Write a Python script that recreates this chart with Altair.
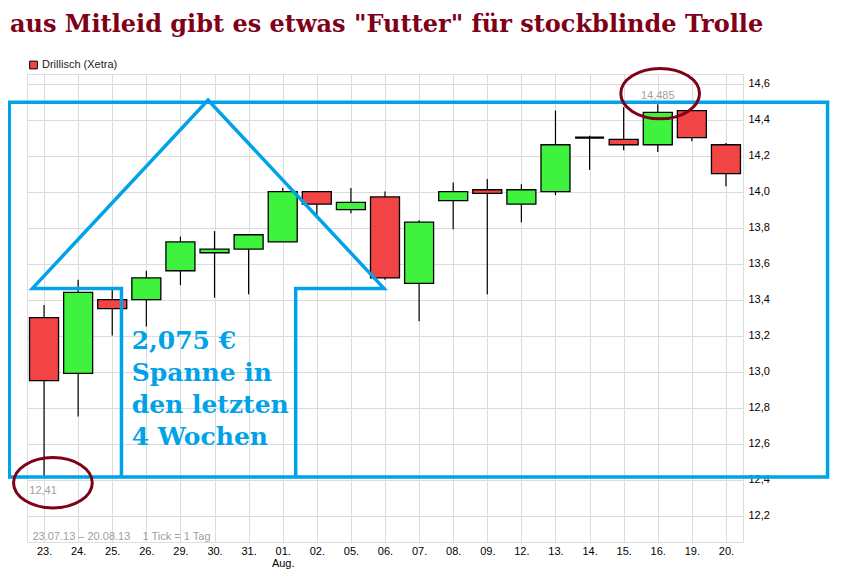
import json
import altair as alt
import pandas as pd

# ---------------- data ----------------
DAYS = ["23.", "24.", "25.", "26.", "29.", "30.", "31.", "01.", "02.", "05.", "06.",
        "07.", "08.", "09.", "12.", "13.", "14.", "15.", "16.", "19.", "20."]
OPEN = [13.30, 12.99, 13.40, 13.40, 13.56, 13.66, 13.68, 13.72, 14.00, 13.90, 13.97,
        13.49, 13.95, 14.01, 13.93, 14.00, 14.30, 14.29, 14.26, 14.45, 14.26]
HIGH = [13.37, 13.51, 13.46, 13.56, 13.75, 13.78, 13.76, 14.02, 14.00, 14.02, 14.00,
        13.84, 14.05, 14.07, 14.04, 14.45, 14.31, 14.47, 14.485, 14.45, 14.27]
LOW = [12.41, 12.75, 13.20, 13.25, 13.48, 13.41, 13.43, 13.72, 13.87, 13.88, 13.51,
       13.28, 13.79, 13.43, 13.83, 13.98, 14.12, 14.23, 14.22, 14.28, 14.03]
CLOSE = [12.95, 13.44, 13.35, 13.52, 13.72, 13.68, 13.76, 14.00, 13.93, 13.94, 13.52,
         13.83, 14.00, 13.99, 14.01, 14.26, 14.30, 14.26, 14.44, 14.30, 14.10]
MONTH_AT = 7
MONTH_LABEL = "Aug."
Y_TICKS = [12.2, 12.4, 12.6, 12.8, 13.0, 13.2, 13.4, 13.6, 13.8, 14.0, 14.2, 14.4, 14.6]
X_DOMAIN = [-0.5, 20.5]
Y_DOMAIN = [12.053, 14.653]

TITLE = 'aus Mitleid gibt es etwas "Futter" für stockblinde Trolle'
SERIES = ["Drillisch (Xetra)"]
RANGE_NOTE = ["23.07.13 \u2013 20.08.13\u00a0\u00a0\u00a0 1 Tick = 1 Tag"]
RANGE_NOTE_POS = [-0.34, 12.064]
HIGH_LABEL = {"x": [18], "y": [14.485], "t": ["14,485"]}
LOW_LABEL = {"x": [0], "y": [12.41], "t": ["12,41"]}

BOX = {"x": [-1.02], "x2": [22.98], "y": [12.414], "y2": [14.496]}
ARROW_X = [2.27, 2.27, -0.34, 4.81, 9.97, 7.38, 7.38]
ARROW_Y = [12.414, 13.462, 13.462, 14.508, 13.462, 13.462, 12.414]
SPAN_TEXT = ["2,075 \u20ac\nSpanne in\nden letzten\n4 Wochen"]
SPAN_POS = [2.57, 13.125]
ELLIPSE_X = [18.07, 0.26]
ELLIPSE_Y = [14.544, 12.382]

# ---------------- styles ----------------
GREEN = "#3ef23e"
RED = "#f24444"
BLUE = "#00a2e8"
DARKRED = "#800018"
GRID = "#dcdcdc"
AXFONT = "Liberation Sans"

candles = pd.DataFrame({"idx": list(range(len(DAYS))), "day": DAYS, "open": OPEN,
                        "high": HIGH, "low": LOW, "close": CLOSE})
candles["dir"] = ["up" if c > o else ("down" if c < o else "flat") for o, c in zip(OPEN, CLOSE)]

xs = alt.Scale(domain=X_DOMAIN, nice=False, zero=False, padding=0)
ys = alt.Scale(domain=Y_DOMAIN, nice=False, zero=False, padding=0)

x_label_expr = (f"datum.value == {MONTH_AT} ? [{json.dumps(DAYS[MONTH_AT])}, {json.dumps(MONTH_LABEL)}] : "
                f"{json.dumps(DAYS)}[datum.value]")

x_axis = alt.Axis(values=list(range(len(DAYS))), labelExpr=x_label_expr, title=None,
                  grid=True, gridColor=GRID, gridWidth=1, ticks=False, domain=False,
                  labelFont=AXFONT, labelFontSize=11, labelColor="#000000",
                  labelPadding=3, labelLineHeight=12, labelOverlap=False, labelFlush=False,
                  labelBound=False)
y_axis = alt.Axis(values=Y_TICKS, orient="right", title=None,
                  labelExpr="replace(format(datum.value, '.1f'), '.', ',')",
                  grid=True, gridColor=GRID, gridWidth=1, ticks=False, domain=False,
                  labelFont=AXFONT, labelFontSize=11, labelColor="#000000", labelPadding=5,
                  labelOverlap=False, labelFlush=False, labelBound=False)


def X(field):
    return alt.X(field, scale=xs, axis=x_axis)


def Y(field):
    return alt.Y(field, scale=ys, axis=y_axis)


base = alt.Chart(candles)

wicks = base.mark_rule(color="#000000", strokeWidth=1.2).encode(
    x=X("idx:Q"),
    y=Y("low:Q"),
    y2="high:Q",
)

bodies = base.mark_bar(size=29, stroke="#000000").encode(
    x=X("idx:Q"),
    y=Y("open:Q"),
    y2="close:Q",
    fill=alt.Fill("dir:N", scale=alt.Scale(domain=["up", "down", "flat"], range=[GREEN, RED, "#000000"]),
                  legend=None),
    strokeWidth=alt.condition("datum.dir == 'flat'", alt.value(2.2), alt.value(1.3)),
)

legend_layer = alt.Chart(pd.DataFrame({"series": SERIES, "v": [OPEN[0]], "i": [0]})).mark_square(
    opacity=0).encode(
    x=X("i:Q"),
    y=Y("v:Q"),
    color=alt.Color("series:N", scale=alt.Scale(range=[RED]),
                    legend=alt.Legend(orient="none", legendX=1, legendY=-14.5, title=None,
                                      padding=0, symbolType="square", symbolSize=60,
                                      symbolStrokeColor="#000000", symbolStrokeWidth=1,
                                      symbolOpacity=1, symbolFillColor=RED,
                                      labelFont=AXFONT, labelFontSize=11, labelColor="#222222",
                                      labelOffset=3)),
)

box = alt.Chart(pd.DataFrame(BOX)).mark_rect(filled=False, stroke=BLUE, strokeWidth=3.5).encode(
    x=X("x:Q"), x2="x2:Q",
    y=Y("y:Q"), y2="y2:Q",
)

arrow = alt.Chart(pd.DataFrame({"x": ARROW_X, "y": ARROW_Y, "o": list(range(len(ARROW_X)))})).mark_line(
    color=BLUE, strokeWidth=3.5, strokeJoin="miter").encode(
    x=X("x:Q"),
    y=Y("y:Q"),
    order="o:Q",
)

span_text = alt.Chart(pd.DataFrame({"x": [SPAN_POS[0]], "y": [SPAN_POS[1]], "t": SPAN_TEXT})).mark_text(
    align="left", baseline="alphabetic", font="DejaVu Serif", fontWeight="bold", fontSize=25,
    color=BLUE, lineBreak="\n", lineHeight=32).encode(
    x=X("x:Q"), y=Y("y:Q"), text="t:N")

hi_lab = alt.Chart(pd.DataFrame(HIGH_LABEL)).mark_text(
    align="center", baseline="alphabetic", dy=-5, font=AXFONT, fontSize=11, color="#a0a0a0").encode(
    x=X("x:Q"), y=Y("y:Q"), text="t:N")
lo_lab = alt.Chart(pd.DataFrame(LOW_LABEL)).mark_text(
    align="center", baseline="alphabetic", dy=16, dx=-1, font=AXFONT, fontSize=11, color="#a0a0a0").encode(
    x=X("x:Q"), y=Y("y:Q"), text="t:N")

note = alt.Chart(pd.DataFrame({"x": [RANGE_NOTE_POS[0]], "y": [RANGE_NOTE_POS[1]], "t": RANGE_NOTE})).mark_text(
    align="left", baseline="alphabetic", font=AXFONT, fontSize=11, color="#a0a0a0").encode(
    x=X("x:Q"), y=Y("y:Q"), text="t:N")

ELLIPSE_PATH = "M -1 0 A 1 0.64 0 1 1 1 0 A 1 0.64 0 1 1 -1 0 Z"
ellipses = alt.Chart(pd.DataFrame({"x": ELLIPSE_X, "y": ELLIPSE_Y})).mark_point(
    shape=ELLIPSE_PATH, size=6200, filled=False, stroke=DARKRED, strokeWidth=3, opacity=1).encode(
    x=X("x:Q"), y=Y("y:Q"))

chart = alt.layer(
    wicks, bodies, legend_layer, box, arrow, span_text, hi_lab, lo_lab, note, ellipses
).properties(
    width=716, height=468,
    padding={"left": 19, "top": 66, "right": 94, "bottom": 28},
    autosize=alt.AutoSizeParams(type="none"),
    title=alt.TitleParams(TITLE, anchor="start", frame="group", dx=-17, offset=4,
                          baseline="alphabetic", font="DejaVu Serif", fontWeight="bold",
                          fontSize=24, color=DARKRED),
).configure_view(stroke="#d4d4d4", strokeWidth=1).configure_axis(
    labelOverlap=False
).configure(background="white")

chart.save("out.html", embed_options={"renderer": "svg", "actions": False})
